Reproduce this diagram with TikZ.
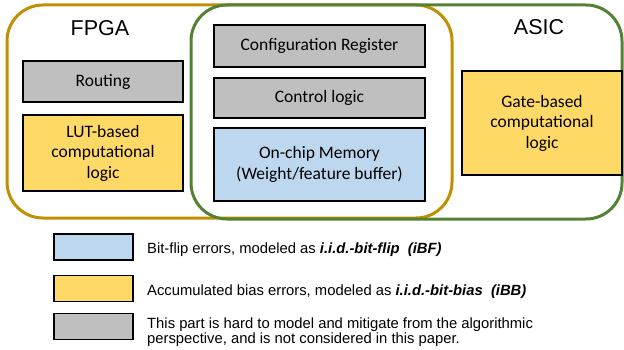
\documentclass[tikz,border=0pt]{standalone}
\usepackage{fontspec}
\setmainfont{Carlito}
\newfontfamily\arialf{Liberation Sans}
\definecolor{fpgaline}{HTML}{BF9000}
\definecolor{asicline}{HTML}{548235}
\definecolor{grayfill}{HTML}{BFBFBF}
\definecolor{yellowfill}{HTML}{FFD966}
\definecolor{bluefill}{HTML}{BDD7EE}
\tikzset{
  x=1pt, y=-1pt,
  region/.style={line width=3pt, rounded corners=36pt},
  part/.style={draw=black, line width=1.6pt, align=center, inner sep=0pt,
    font=\fontsize{17.5}{20.5}\selectfont},
  swatch/.style={draw=black, line width=1.6pt, minimum width=79pt, minimum height=26pt, inner sep=0pt},
  legtext/.style={align=left, inner sep=0pt,
    font=\arialf\fontsize{14.8}{15}\selectfont},
  title/.style={font=\arialf\fontsize{21.5}{24}\selectfont, inner sep=0pt}
}
\begin{document}
\begin{tikzpicture}
\useasboundingbox (0,0) rectangle (624,350);
% platform outlines
\draw[region, draw=fpgaline] (7,5) rectangle (452,218);
\draw[region, draw=asicline] (191,5) rectangle (622,219);
\node[title] (fpga) at (100,28) {FPGA};
\node[title] (asic) at (539,27) {ASIC};
% FPGA-only parts
\node[part, fill=grayfill, minimum width=160pt, minimum height=41pt] (routing) at (103,81.5) {\raisebox{-2pt}{Routing}};
\node[part, fill=yellowfill, minimum width=160pt, minimum height=76pt] (lut) at (103,153) {LUT-based\\computational\\logic};
% shared parts
\node[part, fill=grayfill, minimum width=211pt, minimum height=42pt] (cfg) at (319.5,46) {\raisebox{-2pt}{Configuration Register}};
\node[part, fill=grayfill, minimum width=211pt, minimum height=40pt] (ctrl) at (319.5,98) {\raisebox{-2pt}{Control logic}};
\node[part, fill=bluefill, minimum width=211pt, minimum height=73pt] (mem) at (319.5,164.5) {On-chip Memory\\(Weight/feature buffer)};
% ASIC-only part
\node[part, fill=yellowfill, minimum width=160pt, minimum height=104pt] (gate) at (542,123) {Gate-based\\computational\\logic};
% legend
\node[swatch, fill=bluefill] (lb) at (93.5,247) {};
\node[swatch, fill=yellowfill] (ly) at (93.5,288.5) {};
\node[swatch, fill=grayfill] (lg) at (93.5,326.5) {};
\node[legtext, anchor=base west] (tb) at (147,253) {Bit-flip errors, modeled as \textbf{\textit{i.i.d.-bit-flip\ \ (iBF)}}};
\node[legtext, anchor=base west] (ty) at (147,295) {Accumulated bias errors, modeled as \textbf{\textit{i.i.d.-bit-bias\ \ (iBB)}}};
\node[legtext, anchor=west] (tg) at (147,332.5) {This part is hard to model and mitigate from the algorithmic\\perspective, and is not considered in this paper.};
\end{tikzpicture}
\end{document}
